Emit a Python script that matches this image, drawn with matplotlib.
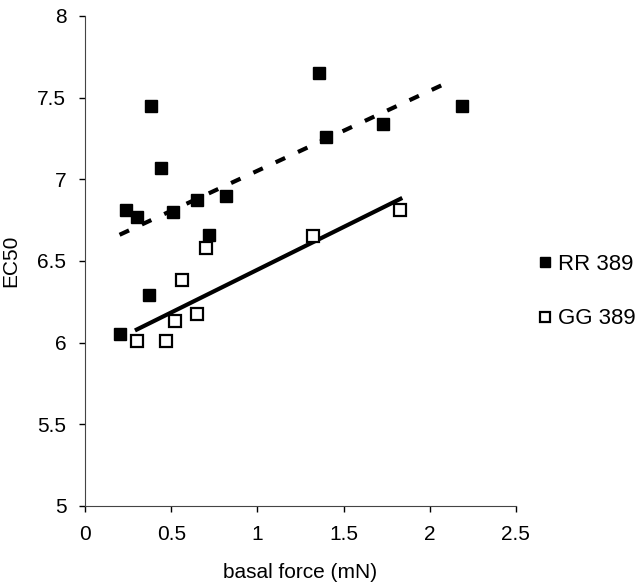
import numpy as np
import matplotlib.pyplot as plt

plt.rcParams['font.family'] = ['Liberation Sans', 'DejaVu Sans']

# RR 389 (filled squares)
rr_x = [0.20, 0.24, 0.30, 0.37, 0.38, 0.44, 0.51, 0.65, 0.72, 0.82, 1.36, 1.40, 1.73, 2.19]
rr_y = [6.05, 6.81, 6.77, 6.29, 7.45, 7.07, 6.80, 6.87, 6.66, 6.90, 7.65, 7.26, 7.34, 7.45]

# GG 389 (open squares)
gg_x = [0.30, 0.47, 0.52, 0.56, 0.65, 0.70, 1.32, 1.83]
gg_y = [6.01, 6.01, 6.135, 6.385, 6.175, 6.58, 6.655, 6.81]

# trend line end points
rr_fit_x = [0.20, 2.12]
rr_fit_y = [6.66, 7.60]
gg_fit_x = [0.30, 1.83]
gg_fit_y = [6.08, 6.88]

xticks = [0, 0.5, 1, 1.5, 2, 2.5]
xticklabels = ['0', '0.5', '1', '1.5', '2', '2.5']
yticks = [5, 5.5, 6, 6.5, 7, 7.5, 8]
yticklabels = ['5', '5.5', '6', '6.5', '7', '7.5', '8']

fig = plt.figure(figsize=(6.4, 5.88), dpi=100)
ax = fig.add_axes([0.133, 0.1395, 0.673, 0.8335])

#trend lines
ax.plot(rr_fit_x, rr_fit_y, color='k', linewidth=3, linestyle=(0, (2.5, 3.4)), solid_capstyle='butt')
ax.plot(gg_fit_x, gg_fit_y, color='k', linewidth=3)

#data points
ax.plot(rr_x, rr_y, linestyle='none', marker='s', markersize=8.5, color='k', label='RR 389')
ax.plot(gg_x, gg_y, linestyle='none', marker='s', markersize=8, markerfacecolor='white',
        markeredgecolor='k', markeredgewidth=1.6, label='GG 389')

ax.set_xlim(0, 2.5)
ax.set_ylim(5, 8)
ax.set_xticks(xticks)
ax.set_xticklabels(xticklabels)
ax.set_yticks(yticks)
ax.set_yticklabels(yticklabels)
ax.tick_params(direction='out', length=4, width=1, labelsize=15, colors='k', pad=9.5)
ax.spines['top'].set_visible(False)
ax.spines['right'].set_visible(False)
ax.spines['left'].set_color('#444444')
ax.spines['bottom'].set_color('#444444')
ax.set_xlabel('basal force (mN)', fontsize=15, labelpad=14)
ax.set_ylabel('EC50', fontsize=15, labelpad=12)

ax.legend(loc='center left', bbox_to_anchor=(0.841, 0.504), bbox_transform=fig.transFigure,
          frameon=False, fontsize=16, borderpad=0, borderaxespad=0,
          handlelength=0.6, handletextpad=0.3, labelspacing=1.5, markerscale=0.85)

fig.savefig('out.png', dpi=100)
